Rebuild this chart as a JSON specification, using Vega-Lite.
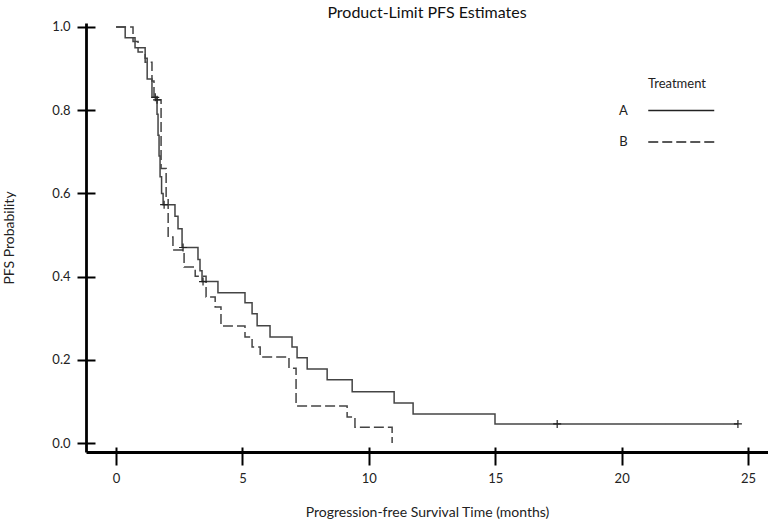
{
  "$schema": "https://vega.github.io/schema/vega-lite/v6.json",
  "width": 682,
  "height": 429,
  "autosize": {"type": "none"},
  "padding": {"left": 86, "top": 23, "right": 0, "bottom": 70},
  "background": "white",
  "title": {"text": "Product-Limit PFS Estimates", "fontSize": 16, "font": "Lato", "fontWeight": "normal", "color": "#111111", "anchor": "middle", "offset": 0},
  "config": {
    "view": {"stroke": null},
    "font": "Lato",
    "axis": {"grid": false}
  },
  "datasets": {
    "curve": [
      {"treatment": "A", "time": 0, "surv": 1.0},
      {"treatment": "A", "time": 0.36, "surv": 0.974},
      {"treatment": "A", "time": 0.75, "surv": 0.95},
      {"treatment": "A", "time": 1.15, "surv": 0.925},
      {"treatment": "A", "time": 1.23, "surv": 0.875},
      {"treatment": "A", "time": 1.42, "surv": 0.831},
      {"treatment": "A", "time": 1.62, "surv": 0.79},
      {"treatment": "A", "time": 1.66, "surv": 0.74},
      {"treatment": "A", "time": 1.7, "surv": 0.69},
      {"treatment": "A", "time": 1.74, "surv": 0.64},
      {"treatment": "A", "time": 1.8, "surv": 0.6},
      {"treatment": "A", "time": 1.86, "surv": 0.573},
      {"treatment": "A", "time": 2.33, "surv": 0.545},
      {"treatment": "A", "time": 2.45, "surv": 0.515},
      {"treatment": "A", "time": 2.61, "surv": 0.47},
      {"treatment": "A", "time": 3.24, "surv": 0.441},
      {"treatment": "A", "time": 3.32, "surv": 0.414},
      {"treatment": "A", "time": 3.4, "surv": 0.388},
      {"treatment": "A", "time": 4.03, "surv": 0.361},
      {"treatment": "A", "time": 5.1, "surv": 0.337},
      {"treatment": "A", "time": 5.38, "surv": 0.311},
      {"treatment": "A", "time": 5.58, "surv": 0.282},
      {"treatment": "A", "time": 6.09, "surv": 0.255},
      {"treatment": "A", "time": 6.96, "surv": 0.231},
      {"treatment": "A", "time": 7.16, "surv": 0.205},
      {"treatment": "A", "time": 7.56, "surv": 0.178},
      {"treatment": "A", "time": 8.35, "surv": 0.152},
      {"treatment": "A", "time": 9.34, "surv": 0.123},
      {"treatment": "A", "time": 11.0, "surv": 0.096},
      {"treatment": "A", "time": 11.75, "surv": 0.07},
      {"treatment": "A", "time": 14.99, "surv": 0.046},
      {"treatment": "A", "time": 24.6, "surv": 0.046},
      {"treatment": "B", "time": 0, "surv": 1.0},
      {"treatment": "B", "time": 0.67, "surv": 0.965},
      {"treatment": "B", "time": 0.87, "surv": 0.94},
      {"treatment": "B", "time": 1.15, "surv": 0.915},
      {"treatment": "B", "time": 1.42, "surv": 0.87},
      {"treatment": "B", "time": 1.5, "surv": 0.825},
      {"treatment": "B", "time": 1.78, "surv": 0.66},
      {"treatment": "B", "time": 1.98, "surv": 0.59},
      {"treatment": "B", "time": 2.06, "surv": 0.495},
      {"treatment": "B", "time": 2.25, "surv": 0.464},
      {"treatment": "B", "time": 2.69, "surv": 0.423},
      {"treatment": "B", "time": 3.13, "surv": 0.401},
      {"treatment": "B", "time": 3.56, "surv": 0.351},
      {"treatment": "B", "time": 3.92, "surv": 0.327},
      {"treatment": "B", "time": 4.15, "surv": 0.281},
      {"treatment": "B", "time": 5.1, "surv": 0.255},
      {"treatment": "B", "time": 5.38, "surv": 0.231},
      {"treatment": "B", "time": 5.7, "surv": 0.207},
      {"treatment": "B", "time": 6.84, "surv": 0.18},
      {"treatment": "B", "time": 7.12, "surv": 0.089},
      {"treatment": "B", "time": 9.14, "surv": 0.0625},
      {"treatment": "B", "time": 9.45, "surv": 0.038},
      {"treatment": "B", "time": 10.92, "surv": 0.0}
    ],
    "censor": [
      {"treatment": "A", "time": 1.55, "surv": 0.831},
      {"treatment": "B", "time": 1.62, "surv": 0.825},
      {"treatment": "A", "time": 1.9, "surv": 0.573},
      {"treatment": "A", "time": 2.65, "surv": 0.47},
      {"treatment": "A", "time": 3.44, "surv": 0.388},
      {"treatment": "A", "time": 17.45, "surv": 0.046},
      {"treatment": "A", "time": 24.6, "surv": 0.046}
    ]
  },
  "layer": [
    {
      "data": {"name": "curve"},
      "mark": {"type": "line", "interpolate": "step-after", "strokeWidth": 1.5, "color": "#444444"},
      "encoding": {
        "x": {
          "field": "time", "type": "quantitative",
          "scale": {"domain": [-1.19, 25.79], "nice": false, "zero": false},
          "axis": {
            "orient": "bottom", "values": [0, 5, 10, 15, 20, 25],
            "title": "Progression-free Survival Time (months)",
            "titleFont": "Lato", "titleFontSize": 14, "titleFontWeight": "normal", "titleColor": "#222222", "titlePadding": 20,
            "labelFont": "Lato", "labelFontSize": 13, "labelColor": "#222222", "labelPadding": 7,
            "domainColor": "#000000", "domainWidth": 2.8, "tickColor": "#000000", "tickWidth": 2, "tickSize": 13
          }
        },
        "y": {
          "field": "surv", "type": "quantitative",
          "scale": {"domain": [-0.0216, 1.0096], "nice": false, "zero": false},
          "axis": {
            "orient": "left", "values": [0, 0.2, 0.4, 0.6, 0.8, 1.0], "format": ".1f",
            "title": "PFS Probability",
            "titleFont": "Lato", "titleFontSize": 14, "titleFontWeight": "normal", "titleColor": "#222222", "titlePadding": 35,
            "labelFont": "Lato", "labelFontSize": 13, "labelColor": "#222222", "labelPadding": 7,
            "domainColor": "#000000", "domainWidth": 2.8, "tickColor": "#000000", "tickWidth": 2, "tickSize": 9
          }
        },
        "strokeDash": {
          "field": "treatment", "type": "nominal",
          "scale": {"domain": ["A", "B"], "range": [[1, 0], [10, 4]]},
          "legend": {
            "orient": "none", "legendX": 562, "legendY": 54.5,
            "title": "Treatment", "titleFont": "Lato", "titleFontSize": 13, "titleFontWeight": "normal", "titleColor": "#222222", "titlePadding": 8,
            "labelFont": "Lato", "labelFontSize": 13, "labelColor": "#222222", "labelAlign": "right", "labelOffset": -65.5,
            "symbolType": "M-3,0H3", "symbolSize": 484, "symbolOffset": 21.25, "symbolStrokeWidth": 1.5, "symbolStrokeColor": "#222222",
            "symbolDash": [7, 3],
            "rowPadding": 12.5, "padding": 0
          }
        }
      }
    },
    {
      "data": {"name": "censor"},
      "mark": {"type": "point", "shape": "M-1,0H1M0,-1V1", "size": 64, "filled": false, "stroke": "#222222", "strokeWidth": 1.2, "opacity": 1},
      "encoding": {
        "x": {
          "field": "time", "type": "quantitative",
          "axis": {"orient": "bottom", "values": [0, 5, 10, 15, 20, 25], "offset": -5, "tickSize": 5, "tickWidth": 2, "tickColor": "#000000", "domain": false, "labels": false, "title": null}
        },
        "y": {
          "field": "surv", "type": "quantitative",
          "axis": {"orient": "left", "values": [0, 0.2, 0.4, 0.6, 0.8, 1.0], "offset": -9, "tickSize": 9, "tickWidth": 2, "tickColor": "#000000", "domain": false, "labels": false, "title": null}
        }
      }
    }
  ],
  "resolve": {"axis": {"x": "independent", "y": "independent"}}
}
